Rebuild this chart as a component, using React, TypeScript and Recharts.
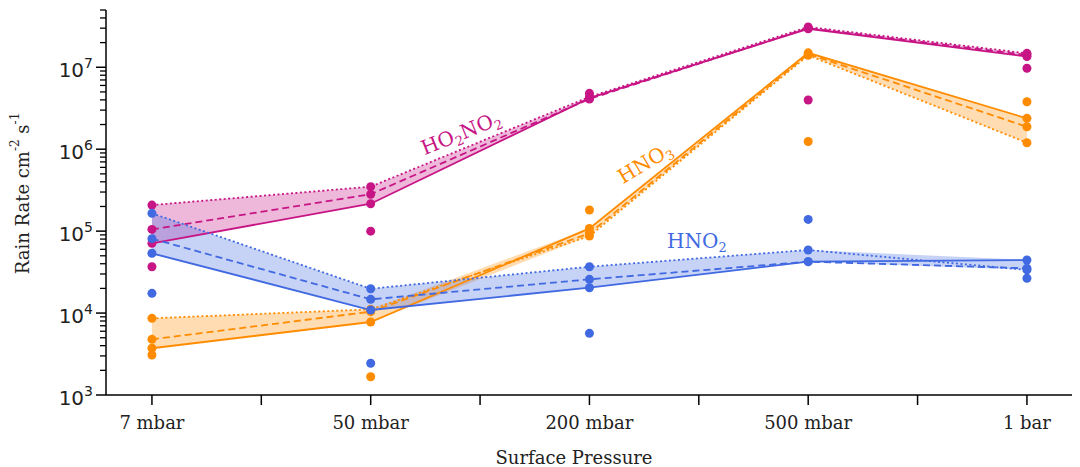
import React from 'react';
import { ComposedChart, Line, Area, XAxis, YAxis, ReferenceDot } from 'recharts';

const categories = ['7 mbar', '50 mbar', '200 mbar', '500 mbar', '1 bar'];

// HO2NO2 (magenta)
const ho2no2Solid = [7.1e4, 2.16e5, 4.2e6, 2.95e7, 1.35e7];
const ho2no2Dashed = [1.05e5, 2.82e5, 4.1e6, 3.0e7, 1.41e7];
const ho2no2Dotted = [2.08e5, 3.49e5, 4.35e6, 3.1e7, 1.48e7];
const ho2no2Extra = [3.68e4, 1.0e5, 4.81e6, 3.99e6, 9.72e6];

// HNO3 (orange)
const hno3Solid = [3.72e3, 7.78e3, 1.08e5, 1.5e7, 2.38e6];
const hno3Dashed = [4.78e3, 1.04e4, 9.4e4, 1.45e7, 1.88e6];
const hno3Dotted = [8.63e3, 1.11e4, 8.7e4, 1.4e7, 1.2e6];
const hno3Extra = [3.08e3, 1.67e3, 1.81e5, 1.24e6, 3.8e6];

// HNO2 (blue)
const hno2Solid = [5.37e4, 1.09e4, 2.04e4, 4.24e4, 4.44e4];
const hno2Dashed = [8.09e4, 1.47e4, 2.58e4, 4.24e4, 3.52e4];
const hno2Dotted = [1.65e5, 1.98e4, 3.68e4, 5.89e4, 3.36e4];
const hno2Extra = [1.74e4, 2.44e3, 5.66e3, 1.39e5, 2.66e4];

const xTicks = [0, 0.5, 1, 1.5, 2, 2.5, 3, 3.5, 4];
const yTicks: number[] = [];
for (let e = 3; e <= 7; e++) {
  for (let m = 1; m <= 9; m++) {
    const v = m * Math.pow(10, e);
    if (v <= 5e7) yTicks.push(v);
  }
}

const MAGENTA = '#c71585';
const ORANGE = '#ff8c00';
const BLUE = '#4169e1';

const band = (a: number[], b: number[], c: number[], i: number) => [
  Math.min(a[i], b[i], c[i]),
  Math.max(a[i], b[i], c[i]),
];

const data = categories.map((_, i) => ({
  x: i,
  mS: ho2no2Solid[i], mD: ho2no2Dashed[i], mO: ho2no2Dotted[i], mE: ho2no2Extra[i],
  mBand: band(ho2no2Solid, ho2no2Dashed, ho2no2Dotted, i),
  oS: hno3Solid[i], oD: hno3Dashed[i], oO: hno3Dotted[i], oE: hno3Extra[i],
  oBand: band(hno3Solid, hno3Dashed, hno3Dotted, i),
  bS: hno2Solid[i], bD: hno2Dashed[i], bO: hno2Dotted[i], bE: hno2Extra[i],
  bBand: band(hno2Solid, hno2Dashed, hno2Dotted, i),
}));

const SERIF = '"DejaVu Serif", serif';
const SANS = '"DejaVu Sans", sans-serif';

const XTick = (props: any) => {
  const { x, y, payload } = props;
  const v = payload.value;
  const isInt = Math.abs(v - Math.round(v)) < 1e-6;
  return (
    <g>
      <line x1={x} x2={x} y1={y} y2={y + 10} stroke="#000" strokeWidth={1.5} />
      {isInt && (
        <text x={x} y={y + 34} textAnchor="middle" fontFamily={SERIF} fontSize={18} fill="#222">
          {categories[Math.round(v)]}
        </text>
      )}
    </g>
  );
};

const YTick = (props: any) => {
  const { x, y, payload } = props;
  const v = payload.value;
  const e = Math.floor(Math.log10(v) + 1e-9);
  const major = Math.abs(v - Math.pow(10, e)) < 1e-6 * v;
  return (
    <g>
      <line x1={x} x2={x - (major ? 10 : 6)} y1={y} y2={y} stroke="#000" strokeWidth={major ? 1.5 : 1.3} />
      {major && (
        <text x={x - 13} y={y + 10} textAnchor="end" fontFamily={SANS} fontSize={20} fill="#222">
          10
          <tspan dy={-9} fontSize={14}>{e}</tspan>
        </text>
      )}
    </g>
  );
};

const YLabel = (props: any) => {
  const vb = props.viewBox || { x: 0, y: 10, width: 106, height: 385 };
  const cx = vb.x + 22;
  const cy = vb.y + vb.height / 2 - 9;
  return (
    <text
      x={cx}
      y={cy}
      transform={`rotate(-90, ${cx}, ${cy})`}
      textAnchor="middle"
      dominantBaseline="central"
      fontFamily={SERIF}
      fontSize={18}
      fill="#222"
    >
      Rain Rate cm
      <tspan dy={-7} fontSize={12}>-2</tspan>
      <tspan dy={7}> s</tspan>
      <tspan dy={-7} fontSize={12}>-1</tspan>
    </text>
  );
};

const XLabel = (props: any) => {
  const vb = props.viewBox || { x: 106, y: 395, width: 966, height: 72 };
  const cx = vb.x + vb.width / 2 - 15;
  const cy = vb.y + 62;
  return (
    <text x={cx} y={cy} textAnchor="middle" dominantBaseline="central" fontFamily={SERIF} fontSize={18} fill="#222">
      Surface Pressure
    </text>
  );
};

const makeSpeciesLabel = (main: string[], subs: string[], color: string, angle: number) => (props: any) => {
  const vb = props.viewBox || {};
  const cx = vb.cx !== undefined ? vb.cx : vb.x + (vb.width || 0) / 2;
  const cy = vb.cy !== undefined ? vb.cy : vb.y + (vb.height || 0) / 2;
  const parts: React.ReactNode[] = [];
  main.forEach((m, i) => {
    parts.push(<tspan key={'m' + i} dy={i === 0 ? 0 : -6}>{m}</tspan>);
    if (subs[i]) parts.push(<tspan key={'s' + i} dy={6} fontSize={13}>{subs[i]}</tspan>);
  });
  return (
    <text
      x={cx}
      y={cy}
      transform={`rotate(${angle}, ${cx}, ${cy})`}
      textAnchor="middle"
      dominantBaseline="central"
      fontFamily={SERIF}
      fontSize={20}
      fill={color}
    >
      {parts}
    </text>
  );
};

const HO2NO2Label = makeSpeciesLabel(['HO', 'NO'], ['2', '2'], MAGENTA, -22);
const HNO3Label = makeSpeciesLabel(['HNO'], ['3'], ORANGE, -31);
const HNO2Label = makeSpeciesLabel(['HNO'], ['2'], BLUE, 0);

const DASH = '7 4';
const DOT = '2 2.5';

const series = [
  { key: 'm', color: MAGENTA },
  { key: 'o', color: ORANGE },
  { key: 'b', color: BLUE },
];

const R = 4.5;

export default function App() {
  return (
    <div style={{ position: 'absolute', left: 0, top: 0, background: '#fff' }}>
      <ComposedChart width={1080} height={467} data={data} margin={{ top: 10, right: 8, left: 0, bottom: 0 }}>
        <XAxis
          dataKey="x"
          type="number"
          domain={[-0.21, 4.206]}
          ticks={xTicks}
          allowDataOverflow
          interval={0}
          height={72}
          tickSize={0}
          tickMargin={0}
          tickLine={false}
          axisLine={{ stroke: '#000', strokeWidth: 1.5 }}
          tick={<XTick />}
          label={<XLabel />}
        />
        <XAxis
          xAxisId="top"
          dataKey="x"
          type="number"
          orientation="top"
          domain={[-0.21, 4.206]}
          allowDataOverflow
          height={0}
          tick={false}
          tickLine={false}
          axisLine={{ stroke: '#000', strokeWidth: 1.5 }}
        />
        <YAxis
          scale="log"
          type="number"
          domain={[1000, 5e7]}
          allowDataOverflow
          ticks={yTicks}
          interval={0}
          width={106}
          tickSize={0}
          tickMargin={0}
          tickLine={false}
          axisLine={{ stroke: '#000', strokeWidth: 1.5 }}
          tick={<YTick />}
          label={<YLabel />}
        />
        <YAxis
          yAxisId="right"
          orientation="right"
          scale="log"
          type="number"
          domain={[1000, 5e7]}
          allowDataOverflow
          width={0}
          tick={false}
          tickLine={false}
          axisLine={{ stroke: '#000', strokeWidth: 1.5 }}
        />
        {series.map((s) => (
          <Area
            key={s.key + 'band'}
            type="linear"
            dataKey={s.key + 'Band'}
            fill={s.color}
            fillOpacity={0.3}
            stroke="none"
            isAnimationActive={false}
            dot={false}
            activeDot={false}
          />
        ))}
        {series.map((s) => [
          <Line
            key={s.key + 'S'}
            type="linear"
            dataKey={s.key + 'S'}
            stroke={s.color}
            strokeWidth={1.8}
            dot={{ r: R, fill: s.color, stroke: 'none' }}
            activeDot={false}
            isAnimationActive={false}
          />,
          <Line
            key={s.key + 'D'}
            type="linear"
            dataKey={s.key + 'D'}
            stroke={s.color}
            strokeWidth={1.8}
            strokeDasharray={DASH}
            dot={{ r: R, fill: s.color, stroke: 'none', strokeDasharray: '' }}
            activeDot={false}
            isAnimationActive={false}
          />,
          <Line
            key={s.key + 'O'}
            type="linear"
            dataKey={s.key + 'O'}
            stroke={s.color}
            strokeWidth={1.8}
            strokeDasharray={DOT}
            dot={{ r: R, fill: s.color, stroke: 'none', strokeDasharray: '' }}
            activeDot={false}
            isAnimationActive={false}
          />,
          <Line
            key={s.key + 'E'}
            type="linear"
            dataKey={s.key + 'E'}
            stroke="none"
            strokeWidth={0}
            dot={{ r: R, fill: s.color, stroke: 'none' }}
            activeDot={false}
            isAnimationActive={false}
          />,
        ])}
        <ReferenceDot x={1.413} y={1.58e6} r={0} fill="none" stroke="none" label={<HO2NO2Label />} />
        <ReferenceDot x={2.254} y={6.8e5} r={0} fill="none" stroke="none" label={<HNO3Label />} />
        <ReferenceDot x={2.491} y={7.6e4} r={0} fill="none" stroke="none" label={<HNO2Label />} />
      </ComposedChart>
    </div>
  );
}
